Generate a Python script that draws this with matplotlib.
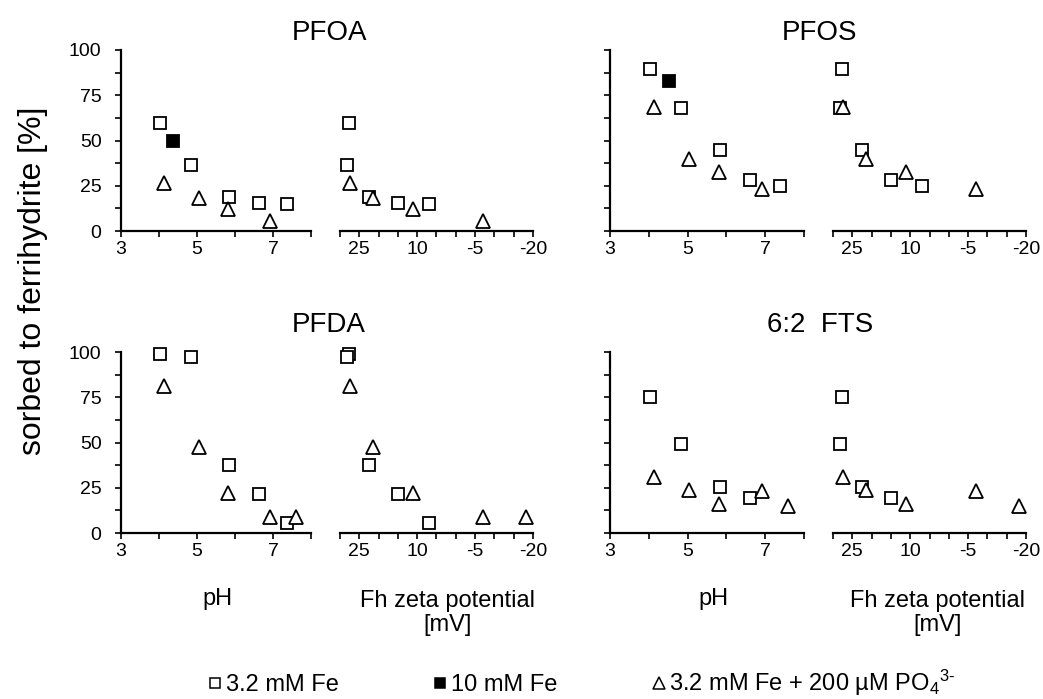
import matplotlib
matplotlib.use("Agg")
import matplotlib.pyplot as plt
import numpy as np
from matplotlib.lines import Line2D
from matplotlib.ticker import FixedLocator, MultipleLocator

plt.rcParams['font.family'] = ['Liberation Sans', 'DejaVu Sans']
plt.rcParams['mathtext.fontset'] = 'custom'
plt.rcParams['mathtext.rm'] = 'Liberation Sans'
plt.rcParams['mathtext.it'] = 'Liberation Sans:italic'
plt.rcParams['mathtext.bf'] = 'Liberation Sans:bold'
plt.rcParams['axes.unicode_minus'] = False

nan = np.nan

# ---- data ----
compounds = ["PFOA", "PFOS", "PFDA", "6:2  FTS"]

# x positions of the experiments (shared by all compounds)
ph_fe = [4.02, 4.83, 5.84, 6.62, 7.38]          # 3.2 mM Fe
zeta_fe = [27.6, 28.2, 22.5, 15.0, 7.0]
ph_po4 = [4.13, 5.04, 5.82, 6.93, 7.60]         # 3.2 mM Fe + PO4
zeta_po4 = [27.3, 21.5, 11.0, -7.0, -18.2]
ph_fe10 = [4.38, 4.52, nan, nan]                # 10 mM Fe (per compound)

# sorbed to ferrihydrite [%]
pfoa_fe = [59.5, 36.5, 18.6, 15.3, 14.9]
pfoa_po4 = [26.5, 18.5, 12.0, 5.7, nan]
pfos_fe = [89.3, 68.0, 44.5, 28.0, 25.0]
pfos_po4 = [68.7, 39.7, 32.8, 23.2, nan]
pfda_fe = [99.0, 97.2, 37.8, 21.4, 5.3]
pfda_po4 = [81.4, 47.5, 22.2, 9.0, 8.8]
fts_fe = [75.4, 49.4, 25.4, 19.1, nan]
fts_po4 = [30.9, 23.5, 16.2, 23.1, 14.8]
fe10_sorbed = [49.7, 83.1, nan, nan]

ph_ticks = [3, 5, 7]
zeta_ticks = [25, 10, -5, -20]
y_ticks = [0, 25, 50, 75, 100]

legend_labels = ["3.2 mM Fe", "10 mM Fe", "3.2 mM Fe + 200 \u00b5M PO$_4$$^{3\\text{-}}$"]

fe_series = [pfoa_fe, pfos_fe, pfda_fe, fts_fe]
po4_series = [pfoa_po4, pfos_po4, pfda_po4, fts_po4]

# ---- layout ----
W, H = 1043, 699
fig = plt.figure(figsize=(W / 100, H / 100), dpi=100)


def rect(x0, x1, y0, y1):
    return [x0 / W, 1 - y1 / H, (x1 - x0) / W, (y1 - y0) / H]


cols = [((121, 311), (340, 533)), ((610, 804), (833, 1026))]
rows = [(50, 231), (352, 533)]
title_base = [40, 332]

sq_kw = dict(marker='s', linestyle='none', markersize=8.3, markerfacecolor='white',
             markeredgecolor='black', markeredgewidth=1.3)
tri_kw = dict(marker='^', linestyle='none', markersize=10.5, markerfacecolor='white',
              markeredgecolor='black', markeredgewidth=1.3)
fill_kw = dict(marker='s', linestyle='none', markersize=8.3, markerfacecolor='black',
               markeredgecolor='black', markeredgewidth=1.3)

TICKFS = 14


def style(ax, show_left, show_ylabels):
    for s in ['top', 'right']:
        ax.spines[s].set_visible(False)
    ax.spines['bottom'].set_linewidth(1.6)
    ax.spines['left'].set_linewidth(1.6)
    ax.set_ylim(0, 100)
    ax.tick_params(axis='x', which='both', direction='out', length=4, width=1.2,
                   labelsize=TICKFS, pad=3)
    if show_left:
        ax.yaxis.set_major_locator(FixedLocator(y_ticks))
        ax.yaxis.set_minor_locator(MultipleLocator(12.5))
        ax.tick_params(axis='y', which='both', direction='out', length=4, width=1.2,
                       labelsize=TICKFS, pad=10, labelleft=show_ylabels)
    else:
        ax.spines['left'].set_visible(False)
        ax.tick_params(axis='y', which='both', left=False, labelleft=False)
    ax.patch.set_alpha(0)


for i, name in enumerate(compounds):
    r, c = divmod(i, 2)
    (px0, px1), (zx0, zx1) = cols[c]
    y0, y1 = rows[r]

    # pH panel
    ax = fig.add_axes(rect(px0, px1, y0, y1))
    style(ax, True, c == 0)
    ax.set_xlim(3, 8)
    ax.xaxis.set_major_locator(FixedLocator(ph_ticks))
    ax.xaxis.set_minor_locator(FixedLocator([4, 6, 8]))
    ax.plot(ph_fe, fe_series[i], clip_on=False, **sq_kw)
    ax.plot(ph_po4, po4_series[i], clip_on=False, **tri_kw)
    if not np.isnan(fe10_sorbed[i]):
        ax.plot([ph_fe10[i]], [fe10_sorbed[i]], clip_on=False, **fill_kw)

    # zeta panel
    az = fig.add_axes(rect(zx0, zx1, y0, y1))
    style(az, False, False)
    az.set_xlim(30, -20)
    az.xaxis.set_major_locator(FixedLocator(zeta_ticks))
    az.xaxis.set_minor_locator(FixedLocator([30, 20, 15, 5, 0, -10, -15]))
    az.plot(zeta_fe, fe_series[i], clip_on=False, **sq_kw)
    az.plot(zeta_po4, po4_series[i], clip_on=False, **tri_kw)

    # title
    fig.text(((px0 + zx1) / 2 + 2) / W, 1 - title_base[r] / H, name,
             ha='center', va='baseline', fontsize=20)

    if r == 1:
        fig.text(217 / W if c == 0 else 713 / W, 1 - 599 / H, "pH",
                 ha='center', va='center', fontsize=17)
        fig.text(448 / W if c == 0 else 938 / W, 1 - 613 / H,
                 "Fh zeta potential\n[mV]", ha='center', va='center',
                 fontsize=17, linespacing=1.15)

# y label
fig.text(33 / W, 1 - 281 / H, "sorbed to ferrihydrite [%]", rotation=90,
         ha='center', va='center', fontsize=23)

# legend
handles = [Line2D([], [], marker='s', linestyle='none', markersize=7.5, markerfacecolor='white',
                  markeredgecolor='black', markeredgewidth=1.1),
           Line2D([], [], marker='s', linestyle='none', markersize=7.5, markerfacecolor='black',
                  markeredgecolor='black', markeredgewidth=1.1),
           Line2D([], [], marker='^', linestyle='none', markersize=9, markerfacecolor='white',
                  markeredgecolor='black', markeredgewidth=1.1)]
fig.legend(handles, legend_labels, loc='center left', bbox_to_anchor=(208 / W, 1 - 683 / H),
           ncol=3, frameon=False, fontsize=17, handlelength=0.6, handletextpad=0.15,
           columnspacing=4.0, borderpad=0, borderaxespad=0)

fig.savefig("out.png", dpi=100)
